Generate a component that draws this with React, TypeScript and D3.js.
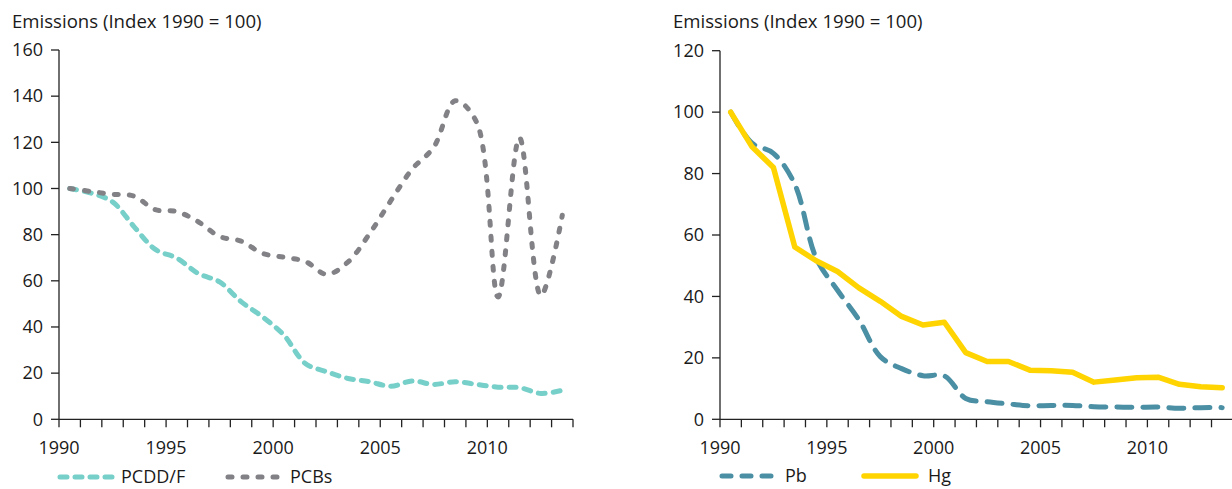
import React from "react";
import * as d3 from "d3";

const years = d3.range(1990, 2014);
const pcddf = [100, 98, 94.2, 83.5, 73.6, 69.8, 63.2, 59.5, 51, 44.4, 36.5, 24.2, 20.6, 17.7, 16.3, 14.3, 16.6, 15.1, 16.3, 15.1, 13.9, 13.7, 11.2, 12.6];
const pcbs = [100, 98.7, 97.5, 96.7, 90.8, 90, 85.6, 79.2, 77.2, 71.9, 70.2, 68.4, 62.8, 68.2, 80.4, 94.8, 108.5, 117.9, 138, 128.7, 53, 122, 53.6, 88.4];
const pb = [100, 89.9, 86.6, 76.5, 52.5, 42, 32.4, 20.4, 16.5, 14.2, 14.1, 6.8, 5.7, 5.0, 4.4, 4.5, 4.5, 4.1, 4.0, 3.9, 4.0, 3.6, 3.8, 3.8];
const hg = [100, 88.7, 82, 56.1, 51.6, 48.1, 42.8, 38.4, 33.5, 30.7, 31.6, 21.7, 18.8, 18.8, 16, 15.8, 15.3, 12.1, 12.8, 13.5, 13.7, 11.4, 10.6, 10.3];
const leftYTicks = [0, 20, 40, 60, 80, 100, 120, 140, 160];
const rightYTicks = [0, 20, 40, 60, 80, 100, 120];
const xLabelYears = [1990, 1995, 2000, 2005, 2010];
const xTickYears = d3.range(1990, 2015);
const yTitle = "Emissions (Index 1990 = 100)";

const FONT = "'Open Sans', 'Noto Sans', sans-serif";
const TEXT = "#1a1a1a";
const AXIS = "#222";
const FS = 18;

type Series = {
  name: string; values: number[]; color: string; dash?: string; legendDash?: string;
  width: number; curve: d3.CurveFactory;
};

function Panel(props: {
  x0: number; x1: number; yTop: number; yBottom: number; yMax: number; yTicks: number[];
  titleX: number; series: Series[]; legendX: number[]; legendTextX: number[]; legendY: number;
}) {
  const { x0, x1, yTop, yBottom, yMax, yTicks, titleX, series, legendX, legendTextX, legendY } = props;
  const x = d3.scaleLinear().domain([1990, 2014]).range([x0, x1]);
  const y = d3.scaleLinear().domain([0, yMax]).range([yBottom, yTop]);
  return (
    <g>
      <text x={titleX} y={28} fontSize={18.6} fontFamily={FONT} fill={TEXT}>{yTitle}</text>
      <line x1={x0} x2={x0} y1={yTop} y2={yBottom} stroke={AXIS} strokeWidth={1.3} />
      {yTicks.map((t) => (
        <g key={t}>
          <line x1={x0 - 8} x2={x0} y1={y(t)} y2={y(t)} stroke={AXIS} strokeWidth={1.3} />
          <text x={x0 - 16} y={y(t)} dy="0.35em" textAnchor="end" fontSize={FS} fontFamily={FONT} fill={TEXT}>{t}</text>
        </g>
      ))}
      <line x1={x0} x2={x1} y1={yBottom} y2={yBottom} stroke={AXIS} strokeWidth={1.3} />
      {xTickYears.map((t) => (
        <line key={t} x1={x(t)} x2={x(t)} y1={yBottom} y2={yBottom + 8} stroke={AXIS} strokeWidth={1.3} />
      ))}
      {xLabelYears.map((t) => (
        <text key={t} x={x(t)} y={454} textAnchor="middle" fontSize={FS} fontFamily={FONT} fill={TEXT}>{t}</text>
      ))}
      {series.map((s) => {
        const line = d3.line<number>().x((_, i) => x(years[i] + 0.5)).y((d) => y(d)).curve(s.curve);
        return (
          <path key={s.name} d={line(s.values) || ""} fill="none" stroke={s.color} strokeWidth={s.width}
            strokeDasharray={s.dash} strokeLinecap="round" strokeLinejoin="round" />
        );
      })}
      {series.map((s, i) => (
        <g key={"lg" + s.name}>
          <line x1={legendX[i]} x2={legendX[i] + 52} y1={legendY} y2={legendY} stroke={s.color} strokeWidth={s.width}
            strokeDasharray={s.legendDash ?? s.dash} strokeLinecap="round" />
          <text x={legendTextX[i]} y={legendY} dy="0.35em" fontSize={FS} fontFamily={FONT} fill={TEXT}>{s.name}</text>
        </g>
      ))}
    </g>
  );
}

export default function App() {
  const leftSeries: Series[] = [
    { name: "PCDD/F", values: pcddf, color: "#76cfc8", dash: "7 8", width: 5, curve: d3.curveCatmullRom },
    { name: "PCBs", values: pcbs, color: "#818186", dash: "4 11", width: 5, curve: d3.curveCatmullRom },
  ];
  const rightSeries: Series[] = [
    { name: "Pb", values: pb, color: "#4a8fa3", dash: "15 11", legendDash: "9 11", width: 5, curve: d3.curveCatmullRom },
    { name: "Hg", values: hg, color: "#ffd400", width: 5.5, curve: d3.curveLinear },
  ];
  return (
    <svg width={1232} height={489} style={{ position: "absolute", left: 0, top: 0, background: "#fff" }}>
      <Panel x0={59} x1={573} yTop={50} yBottom={419.3} yMax={160} yTicks={leftYTicks} titleX={12}
        series={leftSeries} legendX={[60, 228]} legendTextX={[121, 290]} legendY={477} />
      <Panel x0={720} x1={720 + 24 * 21.37} yTop={50.7} yBottom={419.3} yMax={120} yTicks={rightYTicks} titleX={673}
        series={rightSeries} legendX={[722, 864]} legendTextX={[785, 928]} legendY={476} />
    </svg>
  );
}
